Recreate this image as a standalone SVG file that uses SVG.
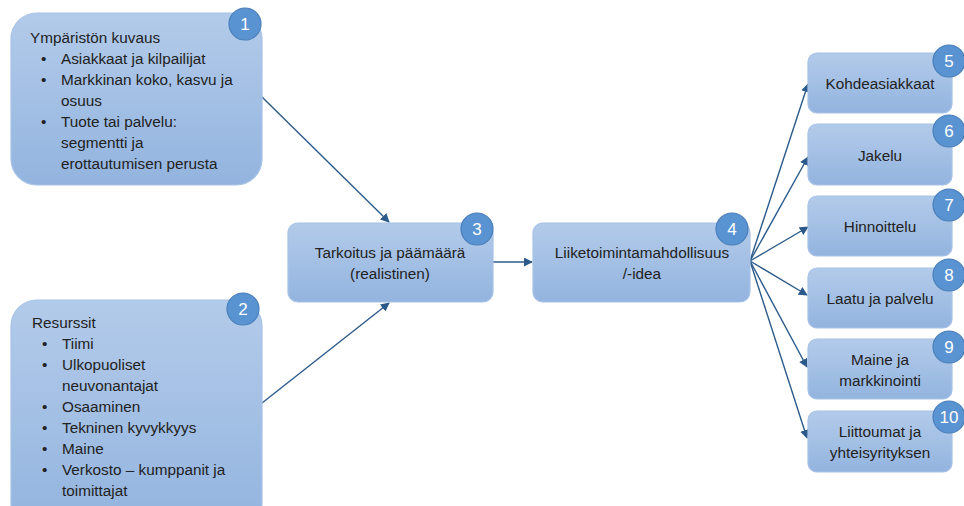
<svg xmlns="http://www.w3.org/2000/svg" width="964" height="506" viewBox="0 0 964 506">
  <defs>
    <linearGradient id="boxFill" x1="0" y1="0" x2="0" y2="1">
      <stop offset="0" stop-color="#b3cbea"/>
      <stop offset="1" stop-color="#93b4df"/>
    </linearGradient>
    <marker id="arrow" viewBox="0 0 10 10" refX="9" refY="5" markerWidth="9" markerHeight="9" markerUnits="userSpaceOnUse" orient="auto">
      <path d="M0,0 L10,5 L0,10 z" fill="#2b5a8a"/>
    </marker>
  </defs>
  <style>
    .box { fill: url(#boxFill); stroke: #a7c2e6; stroke-width: 1.2; }
    .badge { fill: #5a93d2; stroke: #4a7fba; stroke-width: 1.2; }
    .badge-t { font-family: "Liberation Sans", Arial, sans-serif; font-size: 17px; fill: #ffffff; text-anchor: middle; }
    .t { font-family: "Liberation Sans", Arial, sans-serif; font-size: 15.3px; fill: #222222; }
    .c { text-anchor: middle; }
    .conn { stroke: #2b5a8a; stroke-width: 1.4; fill: none; marker-end: url(#arrow); }
  </style>
  <rect width="964" height="506" fill="#ffffff"/>

  <g id="connectors">
    <line class="conn" x1="262" y1="97" x2="389" y2="222"/>
    <line class="conn" x1="262" y1="403" x2="389" y2="303"/>
    <line class="conn" x1="493" y1="262" x2="532" y2="262"/>
    <line class="conn" x1="750" y1="261" x2="808" y2="84"/>
    <line class="conn" x1="750" y1="261" x2="808" y2="157"/>
    <line class="conn" x1="750" y1="261" x2="808" y2="227"/>
    <line class="conn" x1="750" y1="261" x2="807" y2="295"/>
    <line class="conn" x1="750" y1="261" x2="807" y2="367"/>
    <line class="conn" x1="750" y1="261" x2="807" y2="438"/>
  </g>

  <g id="node-1">
    <rect class="box" x="11" y="13" width="251" height="172" rx="26"/>
    <text class="t" x="30" y="43">Ympäristön kuvaus</text>
    <text class="t" x="41" y="64">•</text><text class="t" x="61" y="64">Asiakkaat ja kilpailijat</text>
    <text class="t" x="41" y="85">•</text><text class="t" x="61" y="85">Markkinan koko, kasvu ja</text>
    <text class="t" x="61" y="106">osuus</text>
    <text class="t" x="41" y="127">•</text><text class="t" x="61" y="127">Tuote tai palvelu:</text>
    <text class="t" x="61" y="148">segmentti ja</text>
    <text class="t" x="61" y="169">erottautumisen perusta</text>
    <circle class="badge" cx="245" cy="24" r="16"/>
    <text class="badge-t" x="245" y="30">1</text>
  </g>

  <g id="node-2">
    <rect class="box" x="11" y="300" width="251" height="230" rx="26"/>
    <text class="t" x="32" y="328">Resurssit</text>
    <text class="t" x="42" y="349">•</text><text class="t" x="62" y="349">Tiimi</text>
    <text class="t" x="42" y="370">•</text><text class="t" x="62" y="370">Ulkopuoliset</text>
    <text class="t" x="62" y="391">neuvonantajat</text>
    <text class="t" x="42" y="412">•</text><text class="t" x="62" y="412">Osaaminen</text>
    <text class="t" x="42" y="433">•</text><text class="t" x="62" y="433">Tekninen kyvykkyys</text>
    <text class="t" x="42" y="454">•</text><text class="t" x="62" y="454">Maine</text>
    <text class="t" x="42" y="475">•</text><text class="t" x="62" y="475">Verkosto – kumppanit ja</text>
    <text class="t" x="62" y="496">toimittajat</text>
    <circle class="badge" cx="243" cy="309" r="16"/>
    <text class="badge-t" x="243" y="315">2</text>
  </g>

  <g id="node-3">
    <rect class="box" x="288" y="223" width="205" height="79" rx="10"/>
    <text class="t c" x="390" y="258">Tarkoitus ja päämäärä</text>
    <text class="t c" x="390" y="279">(realistinen)</text>
    <circle class="badge" cx="477" cy="229" r="16"/>
    <text class="badge-t" x="477" y="235">3</text>
  </g>

  <g id="node-4">
    <rect class="box" x="533" y="223" width="217" height="79" rx="10"/>
    <text class="t c" x="642" y="258">Liiketoimintamahdollisuus</text>
    <text class="t c" x="642" y="279">/-idea</text>
    <circle class="badge" cx="732" cy="229" r="16"/>
    <text class="badge-t" x="732" y="235">4</text>
  </g>

  <g id="node-5">
    <rect class="box" x="808" y="53" width="144" height="60" rx="9"/>
    <text class="t c" x="880" y="89">Kohdeasiakkaat</text>
    <circle class="badge" cx="949" cy="61" r="16"/>
    <text class="badge-t" x="949" y="67">5</text>
  </g>

  <g id="node-6">
    <rect class="box" x="808" y="124" width="144" height="61" rx="9"/>
    <text class="t c" x="880" y="161">Jakelu</text>
    <circle class="badge" cx="949" cy="131" r="16"/>
    <text class="badge-t" x="949" y="137">6</text>
  </g>

  <g id="node-7">
    <rect class="box" x="808" y="196" width="144" height="60" rx="9"/>
    <text class="t c" x="880" y="232">Hinnoittelu</text>
    <circle class="badge" cx="949" cy="205" r="16"/>
    <text class="badge-t" x="949" y="211">7</text>
  </g>

  <g id="node-8">
    <rect class="box" x="808" y="268" width="144" height="60" rx="9"/>
    <text class="t c" x="880" y="304">Laatu ja palvelu</text>
    <circle class="badge" cx="949" cy="275" r="16"/>
    <text class="badge-t" x="949" y="281">8</text>
  </g>

  <g id="node-9">
    <rect class="box" x="808" y="339" width="144" height="60" rx="9"/>
    <text class="t c" x="880" y="365">Maine ja</text>
    <text class="t c" x="880" y="386">markkinointi</text>
    <circle class="badge" cx="949" cy="347" r="16"/>
    <text class="badge-t" x="949" y="353">9</text>
  </g>

  <g id="node-10">
    <rect class="box" x="808" y="411" width="144" height="61" rx="9"/>
    <text class="t c" x="880" y="437">Liittoumat ja</text>
    <text class="t c" x="880" y="458">yhteisyrityksen</text>
    <circle class="badge" cx="949" cy="417" r="16"/>
    <text class="badge-t" x="949" y="423">10</text>
  </g>
</svg>
